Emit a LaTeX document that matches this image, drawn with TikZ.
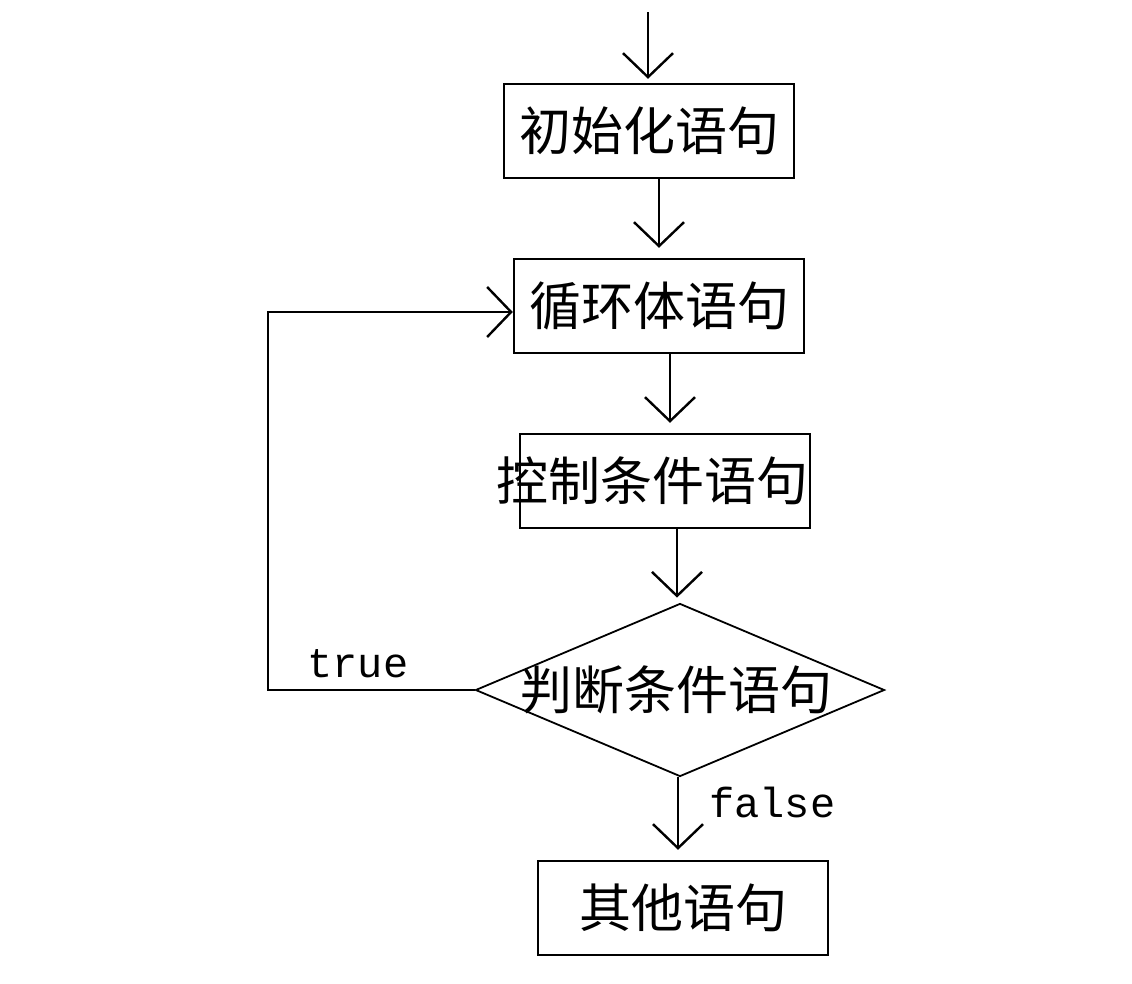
\documentclass[tikz,border=0pt]{standalone}
\usepackage{fontspec}
\newfontfamily\cjk{Noto Sans CJK SC}
\newfontfamily\mono{Liberation Mono}
\usetikzlibrary{arrows.meta,shapes.geometric,positioning}

\begin{document}
\begin{tikzpicture}[x=1pt,y=-1pt,>={Straight Barb[length=24pt,width=50pt]},line width=2.4pt]
  \tikzstyle{stmt}=[rectangle,draw,line width=2.4pt,minimum width=290pt,
                    minimum height=94pt,inner sep=0pt,font=\cjk\fontsize{52}{52}\selectfont]
  \tikzstyle{test}=[diamond,draw,line width=1.8pt,minimum width=409pt,
                    minimum height=173pt,inner sep=0pt,font=\cjk\fontsize{52}{52}\selectfont]
  \tikzstyle{flow}=[->,shorten >=10pt]
  \tikzstyle{branch}=[inner sep=0pt,font=\mono\fontsize{42}{42}\selectfont]
  \useasboundingbox (0,0) rectangle (1132,983);

  \coordinate (start) at (648,12);
  \node [stmt] (init)  at (649,131) {初始化语句};
  \node [stmt] (body)  at (659,306) {循环体语句};
  \node [stmt] (ctrl)  at (665,481) {\makebox[0pt]{\hspace{-26pt}控制条件语句}};
  \node [test] (judge) at (680,690) {\makebox[0pt]{\hspace{-8pt}判断条件语句}};
  \node [stmt] (other) at (683,908) {其他语句};
  \coordinate (back) at (268,690);

  % straight down
  \draw [->,shorten >=4pt] (start) -- (start |- init.north);
  \draw [flow] ([xshift=10pt]init.south) -- ([xshift=10pt]init.south |- body.north);
  \draw [flow] ([xshift=11pt]body.south) -- ([xshift=11pt]body.south |- ctrl.north);
  \draw [flow,shorten >=5pt] ([xshift=12pt]ctrl.south) -- ([xshift=12pt]ctrl.south |- judge.north);
  \draw [flow] ([xshift=-2pt]judge.south) -- ([xshift=-2pt]judge.south |- other.north)
    node [branch,pos=0.3,right=30pt] (no) {false};

  % loop back
  \draw [->] (judge.west) -- (back) |- ([yshift=-6pt]body.west);
  \node [branch] (yes) at (358,664) {true};
\end{tikzpicture}
\end{document}
